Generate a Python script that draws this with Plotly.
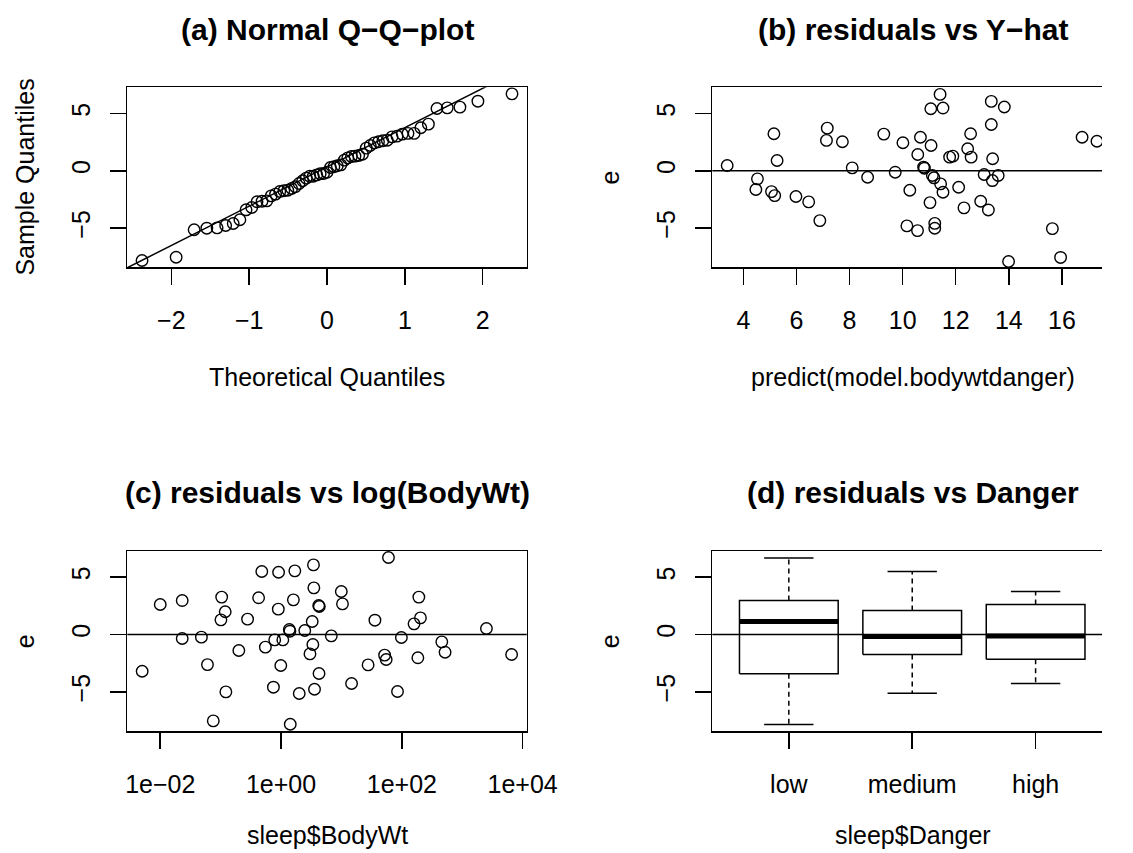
import plotly.graph_objects as go

# ---------------- data ----------------
# (a) Normal Q-Q plot of residuals
qq_theoretical = [-2.376, -1.938, -1.707, -1.544, -1.412, -1.302, -1.205, -1.119, -1.040, -0.967,
                  -0.899, -0.835, -0.774, -0.717, -0.661, -0.607, -0.555, -0.504, -0.455, -0.407,
                  -0.359, -0.313, -0.267, -0.222, -0.177, -0.132, -0.088, -0.044, 0.0,
                  0.044, 0.088, 0.132, 0.177, 0.222, 0.267, 0.313, 0.359, 0.407, 0.455,
                  0.504, 0.555, 0.607, 0.661, 0.717, 0.774, 0.835, 0.899, 0.967, 1.040,
                  1.119, 1.205, 1.302, 1.412, 1.544, 1.707, 1.938, 2.376]
qq_sample = [-7.82, -7.53, -5.14, -5.00, -4.97, -4.77, -4.59, -4.27, -3.40, -3.20,
             -2.70, -2.65, -2.62, -2.18, -2.03, -1.80, -1.74, -1.69, -1.54, -1.39,
             -1.10, -0.87, -0.64, -0.47, -0.47, -0.35, -0.26, -0.23, -0.12,
             0.29, 0.35, 0.44, 0.52, 0.93, 1.13, 1.25, 1.28, 1.34, 1.45,
             1.98, 2.21, 2.44, 2.53, 2.62, 2.67, 2.96, 3.02, 3.20, 3.26,
             3.26, 3.75, 4.07, 5.43, 5.49, 5.55, 6.07, 6.71]
qq_line_intercept = 0.34
qq_line_slope = 3.425
qq_line_x = [-3.0, 3.0]

# (b) residuals vs fitted values
yhat = [3.39, 4.53, 4.47, 5.15, 5.27, 5.06, 5.18, 5.98, 6.46, 6.88, 7.16, 7.13, 7.73, 8.10, 8.68,
        9.29, 9.72, 10.01, 10.16, 10.27, 10.56, 10.67, 10.57, 10.82, 10.79, 11.07, 11.06, 11.52,
        11.41, 11.03, 11.12, 11.18, 11.21, 11.21, 11.43, 11.52, 11.77, 11.89, 12.11, 12.31, 12.45,
        12.56, 12.58, 12.94, 13.07, 13.23, 13.34, 13.34, 13.38, 13.39, 13.60, 13.83, 13.99, 15.64,
        15.95, 16.76, 17.32]
e_b = [0.46, -0.70, -1.63, 3.23, 0.90, -1.81, -2.16, -2.24, -2.71, -4.34, 3.72, 2.65, 2.53, 0.26,
       -0.56, 3.20, -0.12, 2.45, -4.80, -1.69, -5.21, 2.93, 1.42, 0.23, 0.32, 2.21, 5.41, 5.47,
       6.66, -2.77, -0.41, -0.61, -4.58, -5.01, -1.14, -1.87, 1.19, 1.28, -1.43, -3.23, 1.92,
       3.23, 1.19, -2.65, -0.32, -3.41, 6.05, 4.04, -0.85, 1.05, -0.41, 5.56, -7.90, -5.04,
       -7.55, 2.93, 2.58]

# (c) residuals vs body weight (log scale)
bodywt = [0.00502, 0.0100, 0.0231, 0.0231, 0.048, 0.0605, 0.0755, 0.104, 0.119, 0.101, 0.122,
          0.200, 0.279, 0.425, 0.48, 0.55, 0.747, 0.785, 0.91, 0.90, 0.99, 1.07, 1.37, 1.40, 1.42,
          1.60, 1.69, 2.00, 2.47, 3.28, 3.36, 3.01, 3.44, 3.49, 3.58, 4.20, 4.30, 4.25, 6.79, 9.94,
          10.4, 14.7, 27.6, 35.8, 51.8, 55.0, 60.0, 84.7, 98.2, 159, 184, 191, 203, 458, 519,
          2512, 6560]
e_c = [-3.20, 2.62, 2.96, -0.35, -0.23, -2.62, -7.53, 3.26, 1.98, 1.28, -5.00, -1.39, 1.34, 3.20,
       5.49, -1.10, -4.59, -0.47, 5.43, 2.21, -2.70, -0.47, 0.44, 0.29, -7.82, 3.02, 5.55, -5.14,
       0.35, 1.13, -0.87, -1.69, 6.07, 4.07, -4.77, 2.53, 2.44, -3.40, -0.12, 3.75, 2.67, -4.27,
       -2.65, 1.25, -1.80, -2.18, 6.71, -4.97, -0.26, 0.93, -2.03, 3.26, 1.45, -0.64, -1.54,
       0.52, -1.74]

# (d) residuals by danger level (boxplot five-number summaries)
danger_levels = ["low", "medium", "high"]
box_lower = [-7.85, -5.11, -4.27]
box_q1 = [-3.43, -1.74, -2.15]
box_median = [1.13, -0.17, -0.12]
box_q3 = [2.96, 2.09, 2.62]
box_upper = [6.68, 5.49, 3.75]

# tick labels
qq_ticks = [-2, -1, 0, 1, 2]
yhat_ticks = [4, 6, 8, 10, 12, 14, 16]
bw_tickvals = [0.01, 1, 100, 10000]
bw_ticktext = ["1e\u221202", "1e+00", "1e+02", "1e+04"]
e_ticks = [-5, 0, 5]

# ---------------- layout geometry ----------------
W, H = 1133, 853
FONT = "Liberation Sans, Arial, Helvetica, sans-serif"
BOX_L_A, BOX_R_A = 130, 541
BOX_L_B = 732
BOX_C_B = 938
ROW1 = (87.3, 267.3)
ROW2 = (551.0, 731.0)

def fx(p):
    return p / W

def fy(p):
    return 1 - p / H

black = "black"
circle = dict(symbol="circle-open", size=11.5, color=black, line=dict(width=1.4, color=black))

fig = go.Figure()

# (a)
fig.add_trace(go.Scatter(x=qq_theoretical, y=qq_sample, mode="markers", marker=circle,
                         xaxis="x", yaxis="y", showlegend=False, cliponaxis=False))
fig.add_trace(go.Scatter(x=qq_line_x, y=[qq_line_intercept + qq_line_slope * v for v in qq_line_x],
                         mode="lines", line=dict(color=black, width=1.5),
                         xaxis="x", yaxis="y", showlegend=False))
# (b)
fig.add_trace(go.Scatter(x=yhat, y=e_b, mode="markers", marker=circle,
                         xaxis="x2", yaxis="y2", showlegend=False))
# (c)
fig.add_trace(go.Scatter(x=bodywt, y=e_c, mode="markers", marker=circle,
                         xaxis="x3", yaxis="y3", showlegend=False, cliponaxis=False))
# (d) boxplots drawn R-style
for i, lev in enumerate(danger_levels):
    c = i + 1
    hw, cw = 0.4, 0.2
    fig.add_trace(go.Scatter(x=[c - hw, c + hw, c + hw, c - hw, c - hw],
                             y=[box_q1[i], box_q1[i], box_q3[i], box_q3[i], box_q1[i]],
                             mode="lines", line=dict(color=black, width=1.5),
                             xaxis="x4", yaxis="y4", showlegend=False))
    fig.add_trace(go.Scatter(x=[c - hw, c + hw], y=[box_median[i], box_median[i]],
                             mode="lines", line=dict(color=black, width=5),
                             xaxis="x4", yaxis="y4", showlegend=False))
    for a, b in ((box_q3[i], box_upper[i]), (box_q1[i], box_lower[i])):
        fig.add_trace(go.Scatter(x=[c, c], y=[a, b], mode="lines",
                                 line=dict(color=black, width=1.5, dash="5px,4px"),
                                 xaxis="x4", yaxis="y4", showlegend=False))
    for v in (box_upper[i], box_lower[i]):
        fig.add_trace(go.Scatter(x=[c - cw, c + cw], y=[v, v], mode="lines",
                                 line=dict(color=black, width=1.5),
                                 xaxis="x4", yaxis="y4", showlegend=False))

# horizontal reference lines at 0 for (b), (c), (d)
for n in ("2", "3", "4"):
    fig.add_shape(type="line", xref=f"x{n} domain", yref=f"y{n}", x0=0, x1=1, y0=0, y1=0,
                  line=dict(color=black, width=1.5))

axis_common = dict(showline=True, linecolor=black, linewidth=1.5, ticks="outside", ticklen=16,
                   tickwidth=1.5, tickcolor=black, showgrid=False, zeroline=False,
                   tickfont=dict(family=FONT, size=25, color=black))
x_common = dict(axis_common, mirror=True, ticklabelstandoff=14)
e_range = [-8.41, 7.28]
y_common = dict(axis_common, tickvals=e_ticks, tickangle=-90, range=e_range,
                ticklabelstandoff=10)

fig.update_layout(
    width=W, height=H, margin=dict(l=0, r=0, t=0, b=0),
    paper_bgcolor="white", plot_bgcolor="white",
    xaxis=dict(x_common, domain=[fx(BOX_L_A), fx(BOX_R_A)], range=[-2.565, 2.565],
               tickvals=qq_ticks, anchor="y"),
    yaxis=dict(y_common, domain=[fy(ROW1[1]), fy(ROW1[0])], mirror=True, anchor="x"),
    xaxis2=dict(x_common, domain=[fx(BOX_L_B), 1.0], range=[2.83, 17.51],
                tickvals=yhat_ticks, anchor="y2"),
    yaxis2=dict(y_common, domain=[fy(ROW1[1]), fy(ROW1[0])], mirror=False, anchor="x2"),
    xaxis3=dict(x_common, domain=[fx(BOX_L_A), fx(BOX_R_A)], type="log", range=[-2.545, 4.067],
                tickvals=bw_tickvals, ticktext=bw_ticktext, anchor="y3"),
    yaxis3=dict(y_common, domain=[fy(ROW2[1]), fy(ROW2[0])], mirror=True, anchor="x3"),
    xaxis4=dict(x_common, domain=[fx(BOX_L_B), 1.0], range=[0.38, 3.538],
                tickvals=[1, 2, 3], ticktext=danger_levels, anchor="y4"),
    yaxis4=dict(y_common, domain=[fy(ROW2[1]), fy(ROW2[0])], mirror=False, anchor="x4"),
)

ann = []
def text(x, y, s, size=25, bold=False, angle=0):
    ann.append(dict(x=fx(x), y=fy(y), xref="paper", yref="paper", text=f"<b>{s}</b>" if bold else s,
                    showarrow=False, textangle=angle, xanchor="center", yanchor="middle",
                    font=dict(family=FONT, size=size, color=black)))

cA = (BOX_L_A + BOX_R_A) / 2
# titles
text(cA, 29, "(a) Normal Q\u2212Q\u2212plot", size=30, bold=True)
text(BOX_C_B, 29, "(b) residuals vs Y\u2212hat", size=30, bold=True)
text(cA, 492, "(c) residuals vs log(BodyWt)", size=30, bold=True)
text(BOX_C_B, 492, "(d) residuals vs Danger", size=30, bold=True)
# x-axis titles
text(cA, 377, "Theoretical Quantiles")
text(BOX_C_B, 377, "predict(model.bodywtdanger)")
text(cA, 835, "sleep$BodyWt")
text(BOX_C_B, 835, "sleep$Danger")
# y-axis titles
text(BOX_L_A - 105, (ROW1[0] + ROW1[1]) / 2, "Sample Quantiles", angle=-90)
text(BOX_L_B - 105, (ROW1[0] + ROW1[1]) / 2, "e", angle=-90)
text(BOX_L_A - 105, (ROW2[0] + ROW2[1]) / 2, "e", angle=-90)
text(BOX_L_B - 105, (ROW2[0] + ROW2[1]) / 2, "e", angle=-90)
fig.update_layout(annotations=ann)

fig.write_html(
    "out.html",
    config={"displayModeBar": False, "staticPlot": True},
    post_script="document.body.style.margin='0';document.body.style.overflow='hidden';",
)
